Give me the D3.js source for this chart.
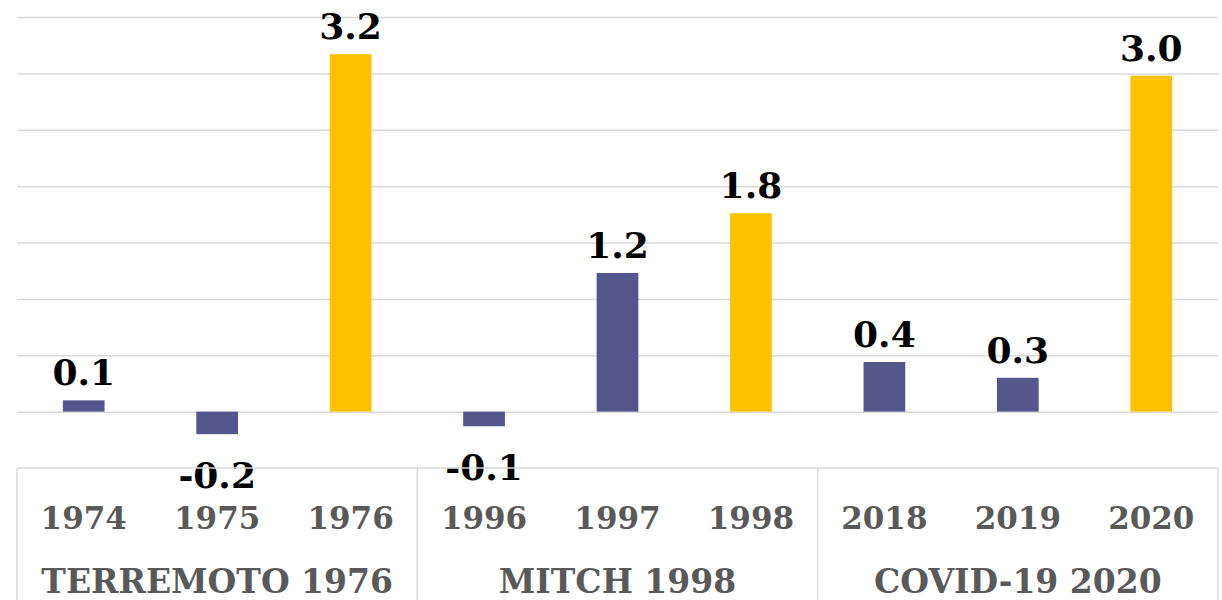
<!DOCTYPE html>
<html>
<head>
<meta charset="utf-8">
<script src="https://cdn.jsdelivr.net/npm/d3@7/dist/d3.min.js"></script>
<style>
  html, body { margin: 0; padding: 0; background: #ffffff; }
  svg { display: block; }
  text { font-family: Georgia, "DejaVu Serif", serif; font-weight: bold; }
</style>
</head>
<body>
<svg id="chart" width="1222" height="600"></svg>
<script>
// ---- data ----
const years = ["1974", "1975", "1976", "1996", "1997", "1998", "2018", "2019", "2020"];
const groups = ["TERREMOTO 1976", "MITCH 1998", "COVID-19 2020"];
const groupOfYear = [0, 0, 0, 1, 1, 1, 2, 2, 2];
const eventYears = ["1976", "1998", "2020"];
const values = [0.10, -0.20, 3.17, -0.13, 1.23, 1.76, 0.44, 0.30, 2.98];
const gridTicks = [-0.5, 0, 0.5, 1.0, 1.5, 2.0, 2.5, 3.0, 3.5];

// ---- layout ----
const W = 1222, H = 600;
const plotLeft = 17, plotRight = 1218, plotTop = 17, axisY = 468;
const svg = d3.select("#chart");

const x = d3.scaleBand().domain(years).range([plotLeft, plotRight])
  .paddingInner(0.6875).paddingOuter(0.34375);
const y = d3.scaleLinear().domain([-0.5, 3.5]).range([axisY, plotTop]);

const gridColor = "#d9d9d9";
const barColor = "#55568b";
const eventColor = "#ffc000";
const labelFont = 36, axisFont = 31;

// gridlines
svg.append("g")
  .attr("transform", `translate(${plotLeft},0)`)
  .call(d3.axisLeft(y).tickValues(gridTicks.filter(t => t > -0.5)).tickSize(-(plotRight - plotLeft)).tickFormat(""))
  .call(g => g.select(".domain").remove())
  .call(g => g.selectAll(".tick line").attr("stroke", gridColor).attr("stroke-width", 1.5));

// bars
svg.append("g").selectAll("rect").data(years).join("rect")
  .attr("x", d => x(d))
  .attr("width", x.bandwidth())
  .attr("y", (d, i) => y(Math.max(0, values[i])))
  .attr("height", (d, i) => Math.abs(y(values[i]) - y(0)))
  .attr("fill", d => eventYears.includes(d) ? eventColor : barColor);

// data labels
svg.append("g").selectAll("text").data(years).join("text")
  .attr("x", d => x(d) + x.bandwidth() / 2)
  .attr("y", (d, i) => values[i] >= 0 ? y(values[i]) - 15 : y(values[i]) + 54)
  .attr("text-anchor", "middle")
  .attr("font-size", labelFont)
  .attr("fill", "#000")
  .text((d, i) => d3.format(".1f")(values[i]).replace("−", "-"));

// category box
const box = svg.append("g").attr("stroke", gridColor).attr("stroke-width", 1.5).attr("fill", "none");
box.append("line").attr("x1", plotLeft).attr("x2", plotRight).attr("y1", axisY).attr("y2", axisY);
const groupEdges = groups.map((g, gi) => {
  const idx = groupOfYear.map((v, i) => v === gi ? i : -1).filter(i => i >= 0);
  const x0 = x(years[idx[0]]) - x.step() * x.paddingInner() / 2;
  const x1 = x(years[idx[idx.length - 1]]) + x.bandwidth() + x.step() * x.paddingInner() / 2;
  return [x0, x1];
});
const edges = [groupEdges[0][0], ...groupEdges.map(e => e[1])];
box.selectAll("line.v").data(edges).join("line").attr("class", "v")
  .attr("x1", d => d).attr("x2", d => d).attr("y1", axisY).attr("y2", H + 5);

// year labels
svg.append("g").selectAll("text").data(years).join("text")
  .attr("x", d => x(d) + x.bandwidth() / 2)
  .attr("y", 529)
  .attr("text-anchor", "middle")
  .attr("font-size", axisFont)
  .attr("fill", "#595959")
  .text(d => d);

// group labels
svg.append("g").selectAll("text").data(groups).join("text")
  .attr("x", (d, i) => (groupEdges[i][0] + groupEdges[i][1]) / 2)
  .attr("y", 593)
  .attr("text-anchor", "middle")
  .attr("font-size", axisFont + 2)
  .attr("fill", "#595959")
  .text(d => d);
</script>
</body>
</html>
